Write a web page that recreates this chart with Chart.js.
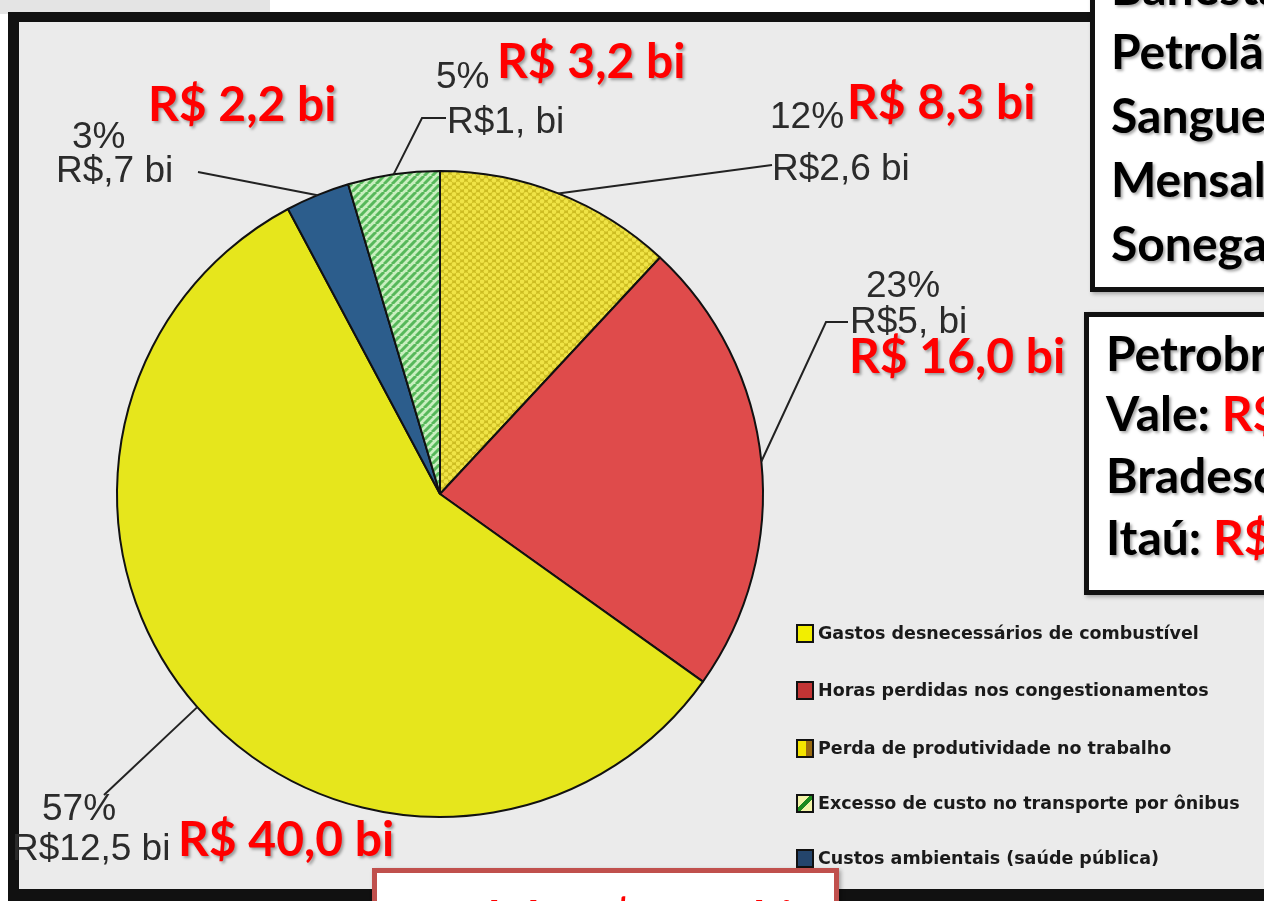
<!DOCTYPE html>
<html lang="pt-BR">
  <head>
    <meta charset="UTF-8" />
    <title>Custos dos congestionamentos</title>
    <style>
      body {
        margin: 0;
        width: 1264px;
        height: 901px;
        overflow: hidden;
        position: relative;
        background: #fff;
      }
      .strip {
        position: absolute;
        left: 0;
        top: 0;
        width: 270px;
        height: 14px;
        background: #e4e4e4;
      }
      .frame {
        position: absolute;
        left: 8px;
        top: 12px;
        width: 1300px;
        height: 889px;
        box-sizing: border-box;
        border-left: 11px solid #111;
        border-top: 10px solid #111;
        border-bottom: 12px solid #111;
        background: #ebebeb;
      }
      #myChart {
        position: absolute;
        left: 0;
        top: 0;
      }
      .scan {
        position: absolute;
        font-family: "Liberation Sans", Arial, sans-serif;
        font-size: 37px;
        line-height: 1;
        color: #2b2b2b;
        white-space: nowrap;
      }
      .red {
        position: absolute;
        font-family: Lato, "Open Sans", sans-serif;
        font-weight: bold;
        font-size: 48px;
        line-height: 1;
        color: #ff0000;
        white-space: nowrap;
        text-shadow: 2px 2px 3px rgba(0, 0, 0, 0.35);
      }
      .box {
        position: absolute;
        box-sizing: border-box;
        border: 5px solid #111;
        background: #fff;
        box-shadow: 2px 2px 4px rgba(0, 0, 0, 0.3);
      }
      .boxText {
        position: absolute;
        font-family: Lato, "Open Sans", sans-serif;
        font-weight: bold;
        font-size: 48px;
        line-height: 1;
        color: #000;
        white-space: nowrap;
        text-shadow: 2px 2px 3px rgba(0, 0, 0, 0.35);
      }
      .boxText span {
        color: #ff0000;
      }
      .legendRow {
        position: absolute;
        left: 796px;
        display: flex;
        align-items: center;
        height: 20px;
        font-family: "DejaVu Sans", sans-serif;
        font-weight: bold;
        font-size: 17.5px;
        color: #1a1a1a;
        white-space: nowrap;
      }
      .swatch {
        width: 14px;
        height: 15px;
        border: 2px solid #111;
        margin-right: 4px;
      }
    </style>
  </head>
  <body>
    <div class="strip"></div>
    <div class="frame"></div>
    <canvas id="myChart" width="1264" height="901"></canvas>
    <div id="labels"></div>
    <div id="legend"></div>

    <div class="box" style="left: 1090px; top: -10px; width: 200px; height: 302px"></div>
    <div class="boxText" style="left: 1111px; top: -37px">Banestado: R$</div>
    <div class="boxText" style="left: 1111px; top: 27px">Petrolão: R$</div>
    <div class="boxText" style="left: 1111px; top: 91px">Sanguessugas: R$</div>
    <div class="boxText" style="left: 1111px; top: 155px">Mensalão: R$</div>
    <div class="boxText" style="left: 1111px; top: 219px">Sonegação: R$</div>

    <div class="box" style="left: 1084px; top: 312px; width: 200px; height: 283px"></div>
    <div class="boxText" style="left: 1106px; top: 329px">Petrobras: <span>R$</span></div>
    <div class="boxText" style="left: 1106px; top: 389px">Vale: <span>R$</span></div>
    <div class="boxText" style="left: 1106px; top: 451px">Bradesco: <span>R$</span></div>
    <div class="boxText" style="left: 1106px; top: 513px">Itaú: <span>R$</span></div>

    <div class="box" style="left: 372px; top: 868px; width: 467px; height: 60px; border-color: #c0504d"></div>
    <div class="red" style="left: 396px; top: 894px; text-shadow: none">Total de R$ 69,7 bi</div>

    <script src="https://cdn.jsdelivr.net/npm/chart.js"></script>
    <script>
      // slices, clockwise from 12 o'clock
      const categories = [
        "Perda de produtividade no trabalho",
        "Horas perdidas nos congestionamentos",
        "Gastos desnecessários de combustível",
        "Custos ambientais (saúde pública)",
        "Excesso de custo no transporte por ônibus"
      ];
      const values = [2.6, 5, 12.5, 0.7, 1.0]; // R$ bi
      const valueLabels = ["R$2,6 bi", "R$5, bi", "R$12,5 bi", "R$,7 bi", "R$1, bi"];
      const redLabels = ["R$ 8,3 bi", "R$ 16,0 bi", "R$ 40,0 bi", "R$ 2,2 bi", "R$ 3,2 bi"];
      const legendOrder = [2, 1, 0, 4, 3];

      // where the texts sit (page px)
      const pctPos = [[770, 97], [866, 266], [42, 789], [72, 117], [436, 57]];
      const valPos = [[772, 149], [850, 302], [12, 829], [56, 151], [447, 102]];
      const redPos = [[847, 77], [849, 331], [178, 814], [148, 79], [497, 36]];
      const leaderPts = [
        [[772, 165]],
        [[826, 322], [848, 322]],
        [[104, 795]],
        [[198, 172]],
        [[422, 118], [446, 118]]
      ];
      const legendTops = [623, 680, 738, 793, 848];
      // swatch per category (same order as categories)
      const swatchBg = [
        "linear-gradient(to right, #f4e400 55%, #9a6a10 55%)",
        "#c23434",
        "#f2ee00",
        "#24456c",
        "linear-gradient(135deg, #f4f4a8 38%, #1c8a1c 38%, #1c8a1c 62%, #f4f4a8 62%)"
      ];

      function dotPattern() {
        const c = document.createElement("canvas");
        c.width = 8;
        c.height = 7;
        const g = c.getContext("2d");
        g.fillStyle = "#cdbd22";
        g.fillRect(0, 0, 8, 7);
        g.fillStyle = "#f0e446";
        [[2, 1.75], [6, 5.25], [6, -1.75], [-2, 5.25], [10, 5.25], [2, 8.75]].forEach(p => {
          g.beginPath();
          g.arc(p[0], p[1], 2.3, 0, Math.PI * 2);
          g.fill();
        });
        return g.createPattern(c, "repeat");
      }

      function stripePattern() {
        const c = document.createElement("canvas");
        c.width = 8;
        c.height = 8;
        const g = c.getContext("2d");
        g.fillStyle = "#c9efc0";
        g.fillRect(0, 0, 8, 8);
        g.strokeStyle = "#56b85a";
        g.lineWidth = 3;
        [-8, 0, 8].forEach(o => {
          g.beginPath();
          g.moveTo(o, 8);
          g.lineTo(o + 8, 0);
          g.stroke();
        });
        return g.createPattern(c, "repeat");
      }

      const total = values.reduce((a, b) => a + b, 0);

      // scanned labels + red overlay labels
      const labelsNode = document.querySelector("#labels");
      categories.forEach((cat, i) => {
        const pct = document.createElement("div");
        pct.className = "scan";
        pct.style.left = pctPos[i][0] + "px";
        pct.style.top = pctPos[i][1] + "px";
        pct.textContent = Math.round((values[i] / total) * 100) + "%";
        labelsNode.appendChild(pct);

        const val = document.createElement("div");
        val.className = "scan";
        val.style.left = valPos[i][0] + "px";
        val.style.top = valPos[i][1] + "px";
        val.textContent = valueLabels[i];
        labelsNode.appendChild(val);

        const red = document.createElement("div");
        red.className = "red";
        red.style.left = redPos[i][0] + "px";
        red.style.top = redPos[i][1] + "px";
        red.textContent = redLabels[i];
        labelsNode.appendChild(red);
      });

      const legendNode = document.querySelector("#legend");
      legendOrder.forEach((idx, row) => {
        const r = document.createElement("div");
        r.className = "legendRow";
        r.style.top = legendTops[row] + "px";
        r.innerHTML =
          '<div class="swatch" style="background:' + swatchBg[idx] + '"></div>' + categories[idx];
        legendNode.appendChild(r);
      });

      const leaderLines = {
        id: "leaderLines",
        afterDatasetsDraw(chart) {
          const ctx = chart.ctx;
          const meta = chart.getDatasetMeta(0);
          ctx.save();
          ctx.strokeStyle = "#222";
          ctx.lineWidth = 2;
          meta.data.forEach((arc, i) => {
            const p = arc.getProps(["x", "y", "startAngle", "endAngle", "outerRadius"], true);
            const mid = (p.startAngle + p.endAngle) / 2;
            ctx.beginPath();
            ctx.moveTo(p.x + Math.cos(mid) * p.outerRadius, p.y + Math.sin(mid) * p.outerRadius);
            leaderPts[i].forEach(pt => ctx.lineTo(pt[0], pt[1]));
            ctx.stroke();
          });
          ctx.restore();
        }
      };

      const ctx = document.querySelector("#myChart");
      new Chart(ctx, {
        type: "pie",
        data: {
          labels: categories,
          datasets: [
            {
              data: values,
              backgroundColor: [dotPattern(), "#df4b4b", "#e6e61c", "#2c5d8c", stripePattern()],
              borderColor: "#111",
              borderWidth: 2,
              hoverOffset: 0
            }
          ]
        },
        options: {
          responsive: false,
          animation: false,
          events: [],
          layout: { padding: { left: 116, right: 500, top: 170, bottom: 83 } },
          plugins: {
            legend: { display: false },
            tooltip: { enabled: false }
          }
        },
        plugins: [leaderLines]
      });
    </script>
  </body>
</html>
